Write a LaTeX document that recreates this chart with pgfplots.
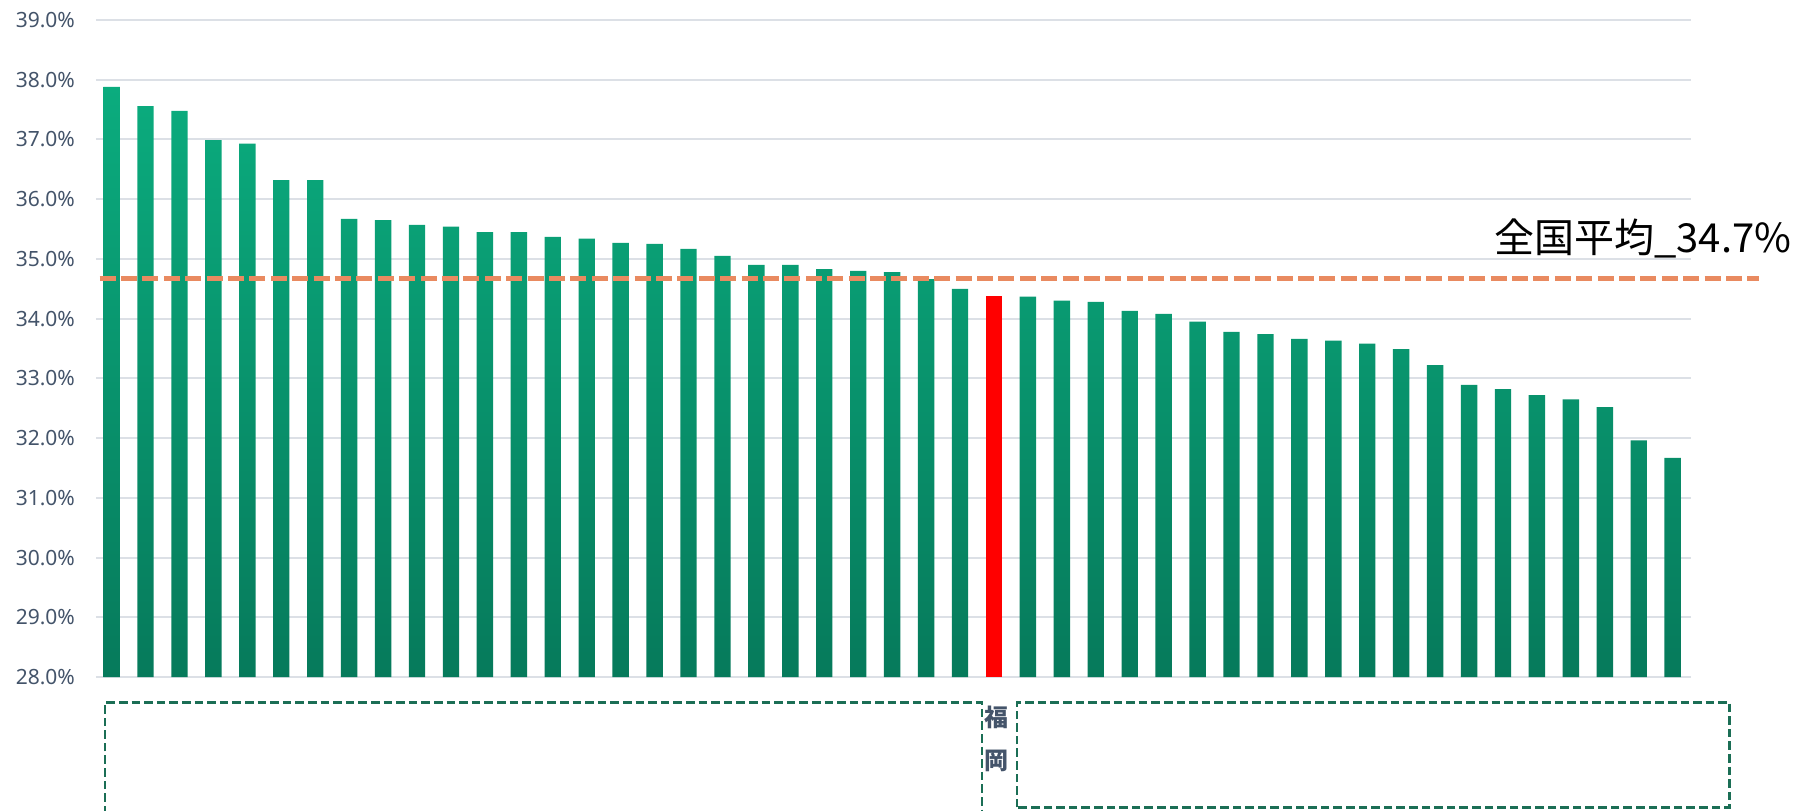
\documentclass[border=0pt]{standalone}
\usepackage{pgfplots}
\pgfplotsset{compat=1.18}
\usepackage{pgfplotstable}
\usepackage{fontspec}
\setmainfont{Noto Sans}
\newfontfamily\cjk{Noto Sans CJK JP}
\definecolor{barTop}{HTML}{0BAC7E}
\definecolor{barBot}{HTML}{067A5B}
\definecolor{tickc}{HTML}{44546A}
\definecolor{gridc}{HTML}{DCE0E6}
\definecolor{avgc}{HTML}{E98A60}
\definecolor{boxc}{HTML}{1B6E55}
\definecolor{fukred}{HTML}{FF0000}

\pgfplotstableread{
x y
0 37.88
1 37.56
2 37.48
3 36.99
4 36.93
5 36.32
6 36.32
7 35.67
8 35.65
9 35.57
10 35.54
11 35.45
12 35.45
13 35.37
14 35.34
15 35.27
16 35.25
17 35.17
18 35.05
19 34.90
20 34.90
21 34.83
22 34.80
23 34.78
24 34.66
25 34.50
27 34.37
28 34.30
29 34.28
30 34.13
31 34.08
32 33.95
33 33.78
34 33.74
35 33.66
36 33.63
37 33.58
38 33.49
39 33.22
40 32.89
41 32.82
42 32.72
43 32.65
44 32.52
45 31.96
46 31.67
}\greendata

\pgfplotstableread{
x y
26 34.38
}\reddata

\pgfplotstableread{
x y
-0.354 34.67
48.53 34.67
}\avgdata

\begin{document}
\begin{tikzpicture}
\begin{axis}[
  width=797.5pt, height=328.5pt, scale only axis,
  xmin=-0.46, xmax=46.54, ymin=28, ymax=39,
  y coord trafo/.code={\pgfmathparse{#1-28}},
  y coord inv trafo/.code={\pgfmathparse{#1+28}},
  clip=false,
  axis line style={draw=none},
  major tick length=0pt,
  ytick={28,29,...,39},
  ymajorgrids,
  major grid style={gridc, line width=1pt},
  /pgf/number format/assume math mode=true,
  yticklabel={\pgfmathprintnumber[fixed,fixed zerofill,precision=1]{\tick}\%},
  yticklabel style={font=\fontsize{10.5}{12}\selectfont, text=tickc, xshift=-7pt},
  xtick={26}, xticklabels={福\\岡},
  xticklabel style={align=center, font=\cjk\bfseries\fontsize{12}{21.5}\selectfont, text=tickc, yshift=-11pt, xshift=1.5pt},
]
\addplot[ybar, bar width=8.2pt, bar shift=0pt, draw=none, top color=barTop, bottom color=barBot] table[x=x,y=y]{\greendata};
\addplot[ybar, bar width=8.2pt, bar shift=0pt, draw=none, fill=fukred] table[x=x,y=y]{\reddata};
\addplot[avgc, line width=2.35pt, dash pattern=on 8pt off 2.7pt, mark=none] table[x=x,y=y]{\avgdata};
\node[anchor=base, font=\cjk\fontsize{20}{24}\selectfont, text=black] at (axis cs:45.12,35.10) {全国平均\_34.7\%};
\draw[boxc, line width=1.3pt, dash pattern=on 4.3pt off 2pt] (axis cs:-0.195,25.70) |- (axis cs:25.645,27.575) -- (axis cs:25.645,25.70);
\draw[boxc, line width=1.3pt, dash pattern=on 4.3pt off 2pt] (axis cs:26.676,25.817) rectangle (axis cs:47.68,27.575);
\coordinate (SW) at (rel axis cs:0,0);
\coordinate (NE) at (rel axis cs:1,1);
\end{axis}
\pgfresetboundingbox
\path[use as bounding box] ([xshift=-48pt,yshift=-66.5pt]SW) rectangle ([xshift=57pt,yshift=10pt]NE);
\end{tikzpicture}
\end{document}
